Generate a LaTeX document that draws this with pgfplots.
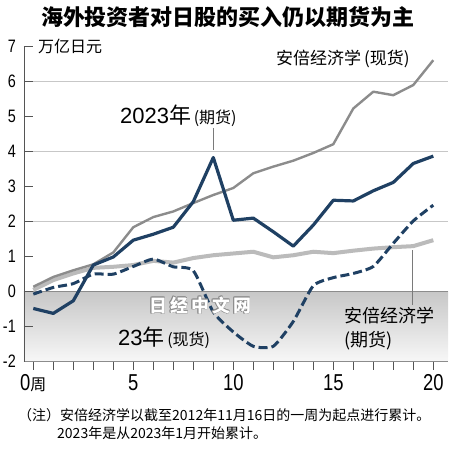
\documentclass[border=0pt]{standalone}
\usepackage{fontspec}
\usepackage{pgfplots}
\pgfplotsset{compat=1.18}
\setmainfont{Noto Sans CJK SC}
\newfontfamily\cjk{Noto Sans CJK SC}
\newfontfamily\numf[FakeStretch=0.8]{Liberation Sans}
\newfontfamily\labf{Liberation Sans}
\definecolor{navy}{HTML}{1F4063}
\definecolor{mgray}{HTML}{8C8C8C}
\definecolor{lgray}{HTML}{BBBBBB}
\definecolor{axgray}{HTML}{555555}
\definecolor{leader}{HTML}{7A7A7A}
\newcommand\fs[1]{\fontsize{#1}{#1}\selectfont}
\newcommand\wm[2]{\node[text=black!45, font=\cjk\bfseries\fs{18}, inner sep=0pt, xshift=#1pt, yshift=#2pt] at (axis cs:8.35,-0.39) {日\,经\,中\,文\,网};}
\begin{document}
\begin{tikzpicture}
\useasboundingbox (0pt,0pt) rectangle (450pt,-450pt);
\begin{axis}[
  axis on top,
  at={(24pt,-361.7pt)}, anchor=south west,
  scale only axis, width=424pt, height=315.2pt,
  xmin=-0.465, xmax=20.735, ymin=-2, ymax=7,
  axis x line*=bottom, axis y line*=left,
  x axis line style={draw=black!45, line width=0.8pt},
  y axis line style={draw=axgray, line width=0.9pt},
  tick align=inside, major tick length=9pt,
  xtick={0,...,20},
  xticklabels={{0{\cjk\fs{16}周}},,,,,5,,,,,10,,,,,15,,,,,20},
  xtick style={draw=none},
  x tick label style={font=\numf\fs{23}, anchor=base, inner sep=0pt, yshift=-28.8pt},
  ytick={-2,...,7},
  yticklabels={-2,-1,0,1,2,3,4,5,6,7},
  ytick style={draw=axgray, line width=0.9pt},
  y tick label style={font=\numf\fs{18}, anchor=east, inner sep=0pt, xshift=-8pt},
]
\fill[top color=black!22, bottom color=black!3] (axis cs:-0.465,0) rectangle (axis cs:20.735,-2);
\draw[black!22, line width=0.8pt] (axis cs:-0.465,2) -- (axis cs:20.735,2);
\draw[black!22, line width=0.8pt] (axis cs:-0.465,4) -- (axis cs:20.735,4);
\draw[black!22, line width=0.8pt] (axis cs:-0.465,6) -- (axis cs:20.735,6);
\draw[black!45, line width=1pt] (axis cs:-0.465,0) -- (axis cs:20.735,0);
% Abenomics futures
\addplot[lgray, line width=4pt, line join=round] coordinates {
(0,0.05) (1,0.33) (2,0.52) (3,0.68) (4,0.71) (5,0.76) (6,0.88) (7,0.83) (8,0.96) (9,1.04) (10,1.09)
(11,1.14) (12,0.98) (13,1.04) (14,1.14) (15,1.10) (16,1.17) (17,1.23) (18,1.27) (19,1.30) (20,1.47)};
% Abenomics spot
\addplot[mgray, line width=2.4pt, line join=round] coordinates {
(0,0.14) (1,0.42) (2,0.61) (3,0.78) (4,1.12) (5,1.84) (6,2.13) (7,2.29) (8,2.53) (9,2.76) (10,2.96)
(11,3.38) (12,3.57) (13,3.74) (14,3.96) (15,4.21) (16,5.23) (17,5.71) (18,5.61) (19,5.90) (20,6.61)};
% 2023 spot
\addplot[navy, line width=3pt, dash pattern=on 9pt off 4pt, smooth, tension=0.35] coordinates {
(0,-0.07) (1,0.12) (2,0.23) (3,0.50) (4,0.50) (5,0.72) (6,0.93) (7,0.71) (8,0.60) (9,-0.58) (10,-1.15)
(11,-1.56) (12,-1.56) (13,-0.85) (14,0.17) (15,0.40) (16,0.52) (17,0.72) (18,1.38) (19,2.02) (20,2.47)};
% 2023 futures
\addplot[navy, line width=3.2pt, line join=round] coordinates {
(0,-0.48) (1,-0.62) (2,-0.26) (3,0.76) (4,0.99) (5,1.47) (6,1.64) (7,1.84) (8,2.57) (9,3.83) (10,2.04)
(11,2.10) (12,1.71) (13,1.30) (14,1.90) (15,2.61) (16,2.59) (17,2.88) (18,3.12) (19,3.66) (20,3.87)};
% watermark
\wm{0.5}{0}\wm{-0.5}{0}\wm{0}{0.5}\wm{0}{-0.5}\wm{0.35}{0.35}\wm{-0.35}{0.35}\wm{0.35}{-0.35}\wm{-0.35}{-0.35}
\node[text=white, font=\cjk\bfseries\fs{18}, inner sep=0pt] at (axis cs:8.35,-0.39) {日\,经\,中\,文\,网};
\end{axis}
% x ticks below the axis
\foreach \i in {0,...,20}{\draw[axgray, line width=0.8pt] (33.3pt+\i*20pt,-361.7pt) -- ++(0pt,-8.5pt);}
% texts
\node[font=\cjk\bfseries\fs{22}, inner sep=0pt] at (228pt,-17.5pt) {海外投资者对日股的买入仍以期货为主};
\node[font=\cjk\fs{16}, anchor=west, inner sep=0pt] at (38pt,-46pt) {万亿日元};
\node[font=\cjk\fs{17}, anchor=west, inner sep=0pt] at (276pt,-59pt) {安倍经济学\,(现货)};
\node[anchor=base west, inner sep=0pt] at (120pt,-123.5pt) {\labf\fs{22}2023\cjk{}年{\fs{16}\,(期货)}};
\draw[leader, line width=1pt] (213pt,-128pt) -- (213pt,-150pt);
\node[anchor=base west, inner sep=0pt] at (118pt,-345pt) {\labf\fs{22}23\cjk{}年{\fs{16}\,(现货)}};
\node[font=\cjk\fs{18}, anchor=west, inner sep=0pt] at (344pt,-316pt) {安倍经济学};
\node[font=\cjk\fs{18}, anchor=west, inner sep=0pt] at (344pt,-340.5pt) {(期货)};
\draw[leader, line width=1pt] (412pt,-250pt) -- (412pt,-305pt);
\node[font=\cjk\fs{14}, anchor=west, inner sep=0pt] at (18pt,-415pt) {（注）安倍经济学以截至2012年11月16日的一周为起点进行累计。};
\node[font=\cjk\fs{14}, anchor=west, inner sep=0pt] at (57pt,-433pt) {2023年是从2023年1月开始累计。};
\end{tikzpicture}
\end{document}
